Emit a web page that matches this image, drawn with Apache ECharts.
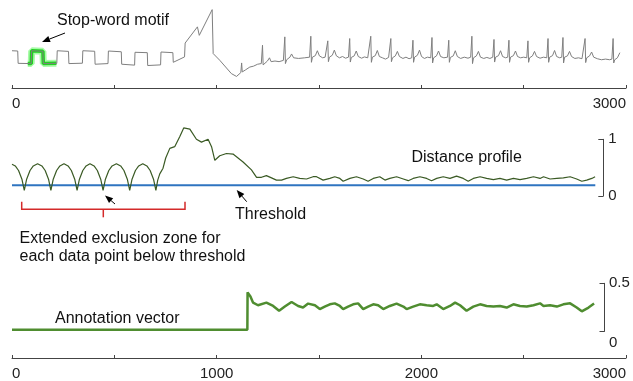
<!DOCTYPE html>
<html>
<head>
<meta charset="utf-8">
<script src="https://cdn.jsdelivr.net/npm/echarts@6/dist/echarts.min.js"></script>
<style>
  html, body { margin: 0; padding: 0; background: #fff; }
  #chart { width: 633px; height: 381px; }
</style>
</head>
<body>
<div id="chart"></div>
<script>
// x positions are sample index (0..3000)
const topTickLabels = ["0", "3000"];
const bottomTickLabels = ["0", "1000", "2000", "3000"];

// raw time series (square-wave part, transition, then ECG-like beats)
const timeSeries = [
  [0, 1.0], [28, 0.98], [30, 0.02], [94, 0.0], [96, 1.0], [151, 0.96], [153, 0.0],
  [219, 0.02], [221, 1.0], [276, 0.95], [278, 0.0], [344, 0.03], [346, 1.0],
  [404, 0.96], [406, -0.05], [469, 0.0], [471, 0.98], [534, 0.92], [536, -0.05],
  [599, -0.12], [601, 0.88], [661, 0.85], [663, -0.15], [726, -0.1], [728, 0.9],
  [786, 0.85], [788, 0.1], [843, 0.52], [846, 1.6], [906, 2.86], [915, 2.2],
  [978, 4.2], [983, 0.78], [1015, 0.26], [1072, -0.78], [1097, -1.0], [1118, -0.7],
  [1122, 0.05], [1125, -0.65], [1140, -0.5], [1162, -0.27], [1180, -0.2], [1200, -0.05],
  [1218, 0.0], [1224, 1.43], [1227, -0.1], [1232, 0.05], [1248, 0.2], [1258, 0.45],
  [1266, 0.15], [1285, 0.2], [1305, 0.15], [1326, 0.25], [1333, 2.08], [1336, 0.0],
  [1342, 0.3], [1358, 0.5], [1366, 0.75], [1376, 0.45], [1400, 0.4], [1430, 0.45],
  [1454, 0.5], [1460, 2.13], [1463, 0.1], [1468, 0.5], [1482, 0.62], [1492, 1.0],
  [1502, 0.6], [1518, 0.45], [1530, 0.5], [1537, 0.48],
  [1543, 1.77], [1546, 0.15], [1551, 0.5], [1565, 0.65], [1575, 1.05], [1585, 0.6],
  [1600, 0.45], [1615, 0.55], [1630, 0.42], [1644, 0.5],
  [1650, 1.95], [1653, 0.12], [1658, 0.48], [1672, 0.6], [1682, 0.98], [1692, 0.55],
  [1708, 0.42], [1722, 0.52], [1738, 0.45], [1747, 0.5],
  [1753, 2.13], [1756, 0.1], [1761, 0.5], [1775, 0.62], [1785, 1.02], [1795, 0.55],
  [1810, 0.45], [1825, 0.35], [1840, 0.48], [1845, 0.5],
  [1851, 1.95], [1854, 0.15], [1859, 0.45], [1873, 0.6], [1883, 0.95], [1893, 0.55],
  [1910, 0.4], [1925, 0.5], [1940, 0.38], [1953, 0.45],
  [1959, 1.82], [1962, 0.1], [1967, 0.5], [1981, 0.65], [1991, 1.05], [2001, 0.55],
  [2015, 0.4], [2030, 0.5], [2046, 0.45],
  [2052, 2.03], [2055, 0.05], [2060, 0.45], [2074, 0.6], [2084, 0.98], [2094, 0.55],
  [2110, 0.45], [2128, 0.5],
  [2134, 1.82], [2137, 0.1], [2142, 0.48], [2156, 0.6], [2166, 1.0], [2176, 0.55],
  [2192, 0.4], [2210, 0.5], [2228, 0.42], [2241, 0.5],
  [2247, 2.13], [2250, 0.0], [2255, 0.45], [2269, 0.6], [2279, 0.95], [2289, 0.5],
  [2305, 0.4], [2320, 0.48], [2335, 0.4], [2349, 0.5],
  [2355, 1.88], [2358, 0.12], [2363, 0.5], [2377, 0.62], [2387, 1.0], [2397, 0.55],
  [2412, 0.45], [2422, 0.5],
  [2428, 1.82], [2431, 0.1], [2436, 0.5], [2450, 0.62], [2460, 0.98], [2470, 0.55],
  [2485, 0.45], [2500, 0.5], [2515, 0.45],
  [2521, 1.77], [2524, 0.1], [2529, 0.45], [2543, 0.6], [2553, 0.95], [2563, 0.55],
  [2580, 0.42], [2597, 0.5], [2613, 0.45],
  [2619, 1.95], [2622, 0.1], [2627, 0.5], [2641, 0.62], [2651, 1.02], [2661, 0.55],
  [2676, 0.45], [2686, 0.5],
  [2692, 2.03], [2695, 0.05], [2700, 0.5], [2714, 0.6], [2724, 0.95], [2734, 0.55],
  [2750, 0.4], [2768, 0.45], [2785, 0.38], [2794, 0.45],
  [2800, 1.95], [2803, 0.08], [2808, 0.45], [2822, 0.6], [2832, 0.9], [2842, 0.5],
  [2860, 0.38], [2880, 0.3], [2900, 0.35], [2920, 0.3], [2931, 0.35],
  [2937, 1.95], [2940, 0.05], [2945, 0.3], [2958, 0.45], [2970, 0.85]
];

// highlighted stop-word motif
const motif = [[77, 0.0], [94, 0.0], [96, 1.0], [151, 0.96], [153, 0.0], [217, 0.02]];

// distance profile
const distanceProfile = [
  [0, 0.56], [16, 0.53], [32, 0.45], [49, 0.29], [60, 0.1], [71, 0.29], [88, 0.45],
  [104, 0.53], [125, 0.57], [146, 0.53], [162, 0.45], [179, 0.29], [190, 0.1],
  [201, 0.29], [218, 0.45], [234, 0.53], [254, 0.57], [274, 0.53], [290, 0.45],
  [307, 0.29], [318, 0.1], [329, 0.29], [346, 0.45], [362, 0.53], [381, 0.57],
  [401, 0.53], [417, 0.45], [434, 0.29], [445, 0.1], [456, 0.29], [473, 0.45],
  [489, 0.53], [510, 0.57], [531, 0.53], [547, 0.45], [564, 0.29], [575, 0.1],
  [586, 0.29], [603, 0.45], [619, 0.53], [639, 0.57], [659, 0.53], [675, 0.45],
  [692, 0.29], [703, 0.1], [712, 0.28], [722, 0.39], [738, 0.49], [751, 0.67],
  [771, 0.84], [795, 0.87], [820, 1.05], [839, 1.2], [869, 1.18], [901, 1.0],
  [926, 0.95], [958, 1.0], [975, 0.87], [991, 0.63], [1015, 0.71], [1048, 0.75],
  [1080, 0.74], [1129, 0.6], [1170, 0.46], [1195, 0.33], [1219, 0.33], [1243, 0.36],
  [1268, 0.32], [1292, 0.28], [1317, 0.28], [1341, 0.31], [1374, 0.34], [1406, 0.31],
  [1439, 0.3], [1471, 0.34], [1488, 0.34], [1520, 0.28], [1553, 0.31], [1577, 0.34],
  [1602, 0.31], [1618, 0.26], [1651, 0.31], [1683, 0.34], [1716, 0.3], [1740, 0.26],
  [1765, 0.31], [1797, 0.34], [1822, 0.28], [1846, 0.31], [1879, 0.34], [1912, 0.3],
  [1936, 0.27], [1960, 0.31], [1993, 0.34], [2026, 0.31], [2050, 0.27], [2075, 0.31],
  [2107, 0.34], [2140, 0.31], [2172, 0.35], [2205, 0.31], [2229, 0.26], [2254, 0.31],
  [2287, 0.34], [2319, 0.31], [2352, 0.29], [2384, 0.31], [2417, 0.28], [2450, 0.31],
  [2482, 0.29], [2515, 0.31], [2548, 0.34], [2580, 0.31], [2597, 0.34], [2629, 0.3],
  [2662, 0.31], [2694, 0.32], [2727, 0.34], [2759, 0.3], [2784, 0.26], [2808, 0.28],
  [2833, 0.31], [2849, 0.34]
];

const thresholdValue = 0.19;
const thresholdRange = [0, 2850];

// annotation vector
const annotationVector = [
  [0, 0.11], [1150, 0.11], [1151, 0.424], [1165, 0.39], [1178, 0.338], [1202, 0.316],
  [1243, 0.338], [1276, 0.31], [1305, 0.27], [1333, 0.305], [1366, 0.343], [1398, 0.31],
  [1422, 0.297], [1447, 0.33], [1480, 0.316], [1504, 0.284], [1528, 0.305], [1553, 0.324],
  [1577, 0.332], [1602, 0.31], [1618, 0.284], [1642, 0.305], [1667, 0.324], [1691, 0.332],
  [1716, 0.284], [1740, 0.305], [1765, 0.324], [1789, 0.316], [1814, 0.284], [1846, 0.31],
  [1879, 0.33], [1912, 0.305], [1928, 0.284], [1960, 0.305], [1993, 0.324], [2026, 0.316],
  [2058, 0.31], [2075, 0.324], [2107, 0.284], [2140, 0.31], [2165, 0.338], [2189, 0.316],
  [2221, 0.27], [2254, 0.305], [2287, 0.324], [2319, 0.31], [2352, 0.305], [2384, 0.31],
  [2417, 0.297], [2450, 0.324], [2482, 0.31], [2515, 0.305], [2548, 0.316], [2580, 0.332],
  [2597, 0.31], [2629, 0.316], [2662, 0.305], [2694, 0.324], [2727, 0.332], [2759, 0.297],
  [2784, 0.265], [2817, 0.297], [2844, 0.33]
];

const FONT = '"Liberation Sans", Arial, sans-serif';
const AXIS = "#444";
const TEXT = "#222";

// arrow from (x1,y1) to tip (x2,y2)
function arrow(x1, y1, x2, y2) {
  const a = Math.atan2(y2 - y1, x2 - x1);
  const L = 8, W = 3.2;
  const bx = x2 - L * Math.cos(a), by = y2 - L * Math.sin(a);
  const px = -Math.sin(a) * W, py = Math.cos(a) * W;
  return [
    { type: "line", shape: { x1, y1, x2: bx, y2: by }, style: { stroke: "#000", lineWidth: 1 } },
    { type: "polygon", shape: { points: [[x2, y2], [bx + px, by + py], [bx - px, by - py]] }, style: { fill: "#000" } }
  ];
}

function label(text, x, y) {
  return {
    type: "text", x, y,
    style: { text, fontSize: 16, fontFamily: FONT, fill: "#111", verticalAlign: "middle" }
  };
}

const myChart = echarts.init(document.getElementById("chart"));

const option = {
  animation: false,
  backgroundColor: "#fff",
  grid: [
    { left: 12, right: 7, top: 0, height: 88 },
    { left: 12, right: 7, top: 139.3, height: 56.7 },
    { left: 12, right: 7, top: 283.3, height: 61.7 },
    { left: 12, right: 7, top: 283.3, height: 48.1 }
  ],
  xAxis: [
    {
      gridIndex: 0, type: "value", min: 0, max: 3000, interval: 500,
      axisLine: { onZero: false, lineStyle: { color: AXIS } },
      axisTick: { inside: true, length: 3, lineStyle: { color: AXIS } },
      splitLine: { show: false },
      axisLabel: {
        margin: 8, fontSize: 15, fontFamily: FONT, color: TEXT,
        alignMinLabel: "left", alignMaxLabel: "right",
        formatter: v => (topTickLabels.includes(String(v)) ? String(v) : "")
      }
    },
    { gridIndex: 1, type: "value", min: 0, max: 3000, show: false },
    {
      gridIndex: 2, type: "value", min: 0, max: 3000, interval: 500, offset: 15,
      axisLine: { onZero: false, lineStyle: { color: AXIS } },
      axisTick: { inside: true, length: 3, lineStyle: { color: AXIS } },
      splitLine: { show: false },
      axisLabel: {
        margin: 8, fontSize: 15, fontFamily: FONT, color: TEXT,
        alignMinLabel: "left", alignMaxLabel: "right",
        formatter: v => (bottomTickLabels.includes(String(v)) ? String(v) : "")
      }
    },
    { gridIndex: 3, type: "value", min: 0, max: 3000, show: false }
  ],
  yAxis: [
    { gridIndex: 0, type: "value", min: -1.9, max: 4.95, show: false },
    {
      gridIndex: 1, type: "value", min: 0, max: 1, interval: 1,
      position: "right", offset: -22.7,
      axisLine: { show: true, onZero: false, lineStyle: { color: AXIS } },
      axisTick: { show: true, inside: true, length: 5, lineStyle: { color: AXIS } },
      splitLine: { show: false },
      axisLabel: { margin: 5, fontSize: 15, fontFamily: FONT, color: TEXT }
    },
    {
      gridIndex: 2, type: "value", min: 0, max: 0.5, interval: 0.5,
      position: "right", offset: -22,
      axisLine: { show: false, onZero: false }, axisTick: { show: false },
      splitLine: { show: false },
      axisLabel: { margin: 5, fontSize: 15, fontFamily: FONT, color: TEXT }
    },
    {
      gridIndex: 3, type: "value", min: 0.11, max: 0.5,
      position: "right", offset: -21.5,
      axisLine: { show: true, onZero: false, lineStyle: { color: AXIS } },
      axisTick: { show: true, inside: true, length: 5, customValues: [0.11, 0.5], lineStyle: { color: AXIS } },
      splitLine: { show: false },
      axisLabel: { show: false }
    }
  ],
  series: [
    {
      name: "Motif glow", type: "line", xAxisIndex: 0, yAxisIndex: 0,
      data: motif, symbol: "none", z: 1,
      lineStyle: { color: "rgba(130,250,130,0.7)", width: 7 }
    },
    {
      name: "Motif", type: "line", xAxisIndex: 0, yAxisIndex: 0,
      data: motif, symbol: "none", z: 2,
      lineStyle: { color: "#22d022", width: 3.5 }
    },
    {
      name: "Time series", type: "line", xAxisIndex: 0, yAxisIndex: 0,
      data: timeSeries, symbol: "none", z: 3, clip: false,
      lineStyle: { color: "#7f7f7f", width: 1 }
    },
    {
      name: "Threshold", type: "line", xAxisIndex: 1, yAxisIndex: 1,
      data: thresholdRange.map(x => [x, thresholdValue]), symbol: "none", z: 2,
      lineStyle: { color: "#2f74c0", width: 2 }
    },
    {
      name: "Distance profile", type: "line", xAxisIndex: 1, yAxisIndex: 1,
      data: distanceProfile, symbol: "none", clip: false, z: 3,
      lineStyle: { color: "#3a5a24", width: 1.2 }
    },
    {
      name: "Annotation vector", type: "line", xAxisIndex: 2, yAxisIndex: 2,
      data: annotationVector, symbol: "none", clip: false,
      lineStyle: { color: "#4f8d30", width: 2.5 }
    }
  ],
  graphic: [
    label("Stop-word motif", 57, 21),
    ...arrow(65, 33, 42, 42),
    label("Distance profile", 411.5, 157.7),
    label("Threshold", 235, 215),
    ...arrow(246.7, 201.7, 236.7, 190),
    ...arrow(115, 204, 105, 195.5),
    {
      type: "polyline",
      shape: { points: [[21.7, 201.7], [21.7, 209.3], [185, 209.3], [185, 201.7]] },
      style: { stroke: "#d42a2a", lineWidth: 1.5, fill: null }
    },
    {
      type: "line",
      shape: { x1: 103.3, y1: 209.3, x2: 103.3, y2: 217.3 },
      style: { stroke: "#d42a2a", lineWidth: 1.5 }
    },
    label("Extended exclusion zone for", 19.5, 238.3),
    label("each data point below threshold", 19.5, 256.7),
    label("Annotation vector", 55, 318.3)
  ]
};

myChart.setOption(option);
</script>
</body>
</html>
